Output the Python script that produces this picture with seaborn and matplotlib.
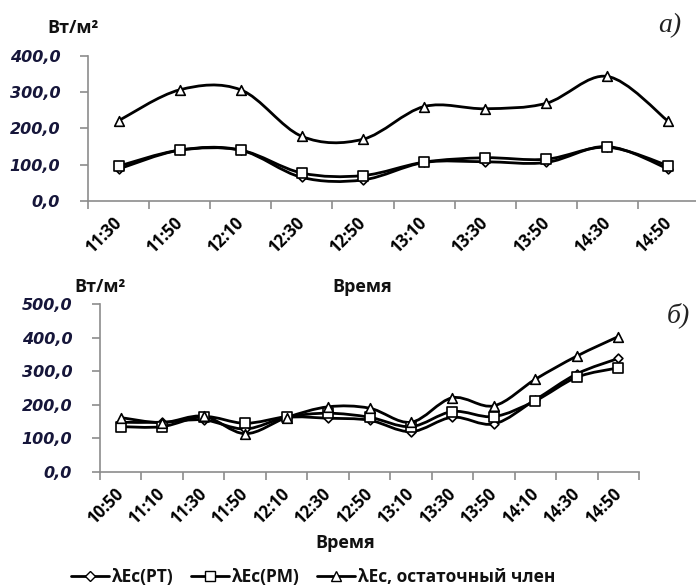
import numpy as np
import pandas as pd
import matplotlib
matplotlib.use("Agg")
import matplotlib.pyplot as plt
import seaborn as sns
from matplotlib.path import Path
from matplotlib.patches import PathPatch
from matplotlib.lines import Line2D
from matplotlib.ticker import FixedLocator, FuncFormatter

# ---------------- data ----------------
times_a = ["11:30", "11:50", "12:10", "12:30", "12:50", "13:10", "13:30", "13:50", "14:30", "14:50"]
pt_a = [88, 140, 140, 65, 58, 106, 108, 106, 150, 88]
pm_a = [96, 140, 140, 77, 70, 107, 119, 115, 148, 97]
res_a = [221, 306, 306, 178, 170, 260, 254, 269, 343, 219]

times_b = ["10:50", "11:10", "11:30", "11:50", "12:10", "12:30", "12:50", "13:10", "13:30", "13:50", "14:10", "14:30", "14:50"]
pt_b = [148, 148, 155, 128, 162, 160, 154, 120, 163, 143, 215, 292, 338]
pm_b = [135, 135, 165, 145, 165, 175, 163, 135, 180, 165, 212, 282, 310]
res_b = [162, 147, 166, 114, 162, 194, 190, 148, 221, 197, 276, 345, 403]

series_names = ["λEc(PT)", "λEc(PM)", "λEc, остаточный член"]
y_label = "Вт/м²"
x_label = "Время"
panel_a = "а)"
panel_b = "б)"

# ---------------- style ----------------
sns.set_theme(style="white")
plt.rcParams["font.family"] = ["Open Sans", "DejaVu Sans"]

W, H = 696, 588
fig = plt.figure(figsize=(W / 100, H / 100), dpi=100)

def fx(px):
    return px / W

def fy(py):
    return 1 - py / H

ax_a = fig.add_axes([fx(88), fy(201), fx(611), (201 - 55.7) / H])
ax_b = fig.add_axes([fx(100), fy(472), fx(539), (472 - 304) / H])

markers = {series_names[0]: "D", series_names[1]: "s", series_names[2]: "^"}
msize = {series_names[0]: 20, series_names[1]: 48, series_names[2]: 48}
AXC = "#8c8c8c"
TICKC = "#16163a"


def smooth_path(x, y, ax):
    x = np.asarray(x, float)
    y = np.asarray(y, float)
    n = len(x)
    verts = [(x[0], y[0])]
    codes = [Path.MOVETO]
    for i in range(n - 1):
        p0 = np.array([x[max(i - 1, 0)], y[max(i - 1, 0)]])
        p1 = np.array([x[i], y[i]])
        p2 = np.array([x[i + 1], y[i + 1]])
        p3 = np.array([x[min(i + 2, n - 1)], y[min(i + 2, n - 1)]])
        c1 = p1 + (p2 - p0) / 6.0
        c2 = p2 - (p3 - p1) / 6.0
        verts += [tuple(c1), tuple(c2), tuple(p2)]
        codes += [Path.CURVE4] * 3
    patch = PathPatch(Path(verts, codes), facecolor="none", edgecolor="black",
                      lw=2.0, zorder=2, transform=ax.transData)
    ax.add_patch(patch)


def draw_panel(ax, times, series, ymax, step):
    idx = np.arange(len(times))
    frames = []
    for name, vals in zip(series_names, series):
        frames.append(pd.DataFrame({"x": idx, "y": vals, "series": name}))
        smooth_path(idx, vals, ax)
    df = pd.concat(frames, ignore_index=True)
    for name in series_names:
        sub = df[df["series"] == name]
        sns.scatterplot(data=sub, x="x", y="y", marker=markers[name], s=msize[name],
                        color="white", edgecolor="black", linewidth=1.2, ax=ax,
                        zorder=3, legend=False)
    ax.set_xlim(-0.5, len(times) - 0.5)
    ax.set_ylim(0, ymax)
    ax.set_xlabel("")
    ax.set_ylabel("")
    for s in ["top", "right"]:
        ax.spines[s].set_visible(False)
    for s in ["left", "bottom"]:
        ax.spines[s].set_color(AXC)
        ax.spines[s].set_linewidth(1.2)
    ax.xaxis.set_major_locator(FixedLocator(idx))
    ax.set_xticklabels(times, rotation=45, ha="right", va="center", rotation_mode="anchor",
                       fontsize=12, fontweight="bold", color="black")
    ax.xaxis.set_minor_locator(FixedLocator(np.arange(-0.5, len(times), 1.0)))
    ax.tick_params(axis="x", which="major", length=0, pad=14)
    ax.tick_params(axis="x", which="minor", length=6, width=1.2, color=AXC,
                   direction="out", bottom=True)
    yt = np.arange(0, ymax + 1, step)
    ax.yaxis.set_major_locator(FixedLocator(yt))
    ax.yaxis.set_major_formatter(FuncFormatter(lambda v, p: f"{v:.1f}".replace(".", ",")))
    ax.tick_params(axis="y", which="major", length=6, width=1.2, color=AXC,
                   direction="out", left=True, pad=14)
    for t in ax.get_yticklabels():
        t.set_fontfamily("DejaVu Sans")
        t.set_fontstyle("italic")
        t.set_fontweight("bold")
        t.set_fontsize(11.5)
        t.set_color(TICKC)


draw_panel(ax_a, times_a, [pt_a, pm_a, res_a], 400, 100)
draw_panel(ax_b, times_b, [pt_b, pm_b, res_b], 500, 100)

txt_kw = dict(fontsize=13, fontweight="bold", color="#111111", ha="center", va="center")
fig.text(fx(73), fy(28), y_label, **txt_kw)
fig.text(fx(362), fy(287), x_label, **txt_kw)
fig.text(fx(100), fy(287), y_label, **txt_kw)
fig.text(fx(345), fy(543), x_label, **txt_kw)

fig.text(fx(670), fy(26), panel_a, fontsize=20, fontstyle="italic", family="Liberation Serif",
         ha="center", va="center", color="#222222")
fig.text(fx(678), fy(315), panel_b, fontsize=20, fontstyle="italic", family="Liberation Serif",
         ha="center", va="center", color="#222222")

handles = [Line2D([0], [0], color="black", lw=2.0, marker=markers[n], markersize=ms,
                  markerfacecolor="white", markeredgecolor="black", markeredgewidth=1.0)
           for n, ms in zip(series_names, [5, 7, 7])]
leg = fig.legend(handles, series_names, loc="center", bbox_to_anchor=(fx(313), fy(577)),
                 ncol=3, frameon=False, handlelength=2.2, handletextpad=0.15,
                 columnspacing=1.0, prop={"weight": "bold", "size": 12.5})
for t in leg.get_texts():
    t.set_color("#111111")

fig.savefig("out.png", dpi=100)
